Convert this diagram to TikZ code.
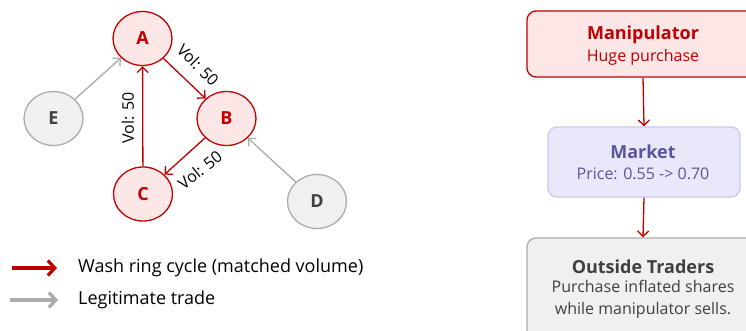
\documentclass[tikz,border=0pt]{standalone}
\usepackage{fontspec}
\setmainfont{Open Sans}
\usetikzlibrary{arrows.meta,shapes.geometric}
\definecolor{wred}{HTML}{C00000}
\definecolor{wredfill}{HTML}{FDE6E6}
\definecolor{lgray}{HTML}{ABABAB}
\definecolor{gfill}{HTML}{F0F0F0}
\definecolor{dgray}{HTML}{404040}
\definecolor{mkfill}{HTML}{E8E8FA}
\definecolor{mkdraw}{HTML}{C8C8F0}
\definecolor{mktext}{HTML}{5B55A0}
\tikzset{
  rnode/.style={ellipse, draw=wred, fill=wredfill, line width=1.3pt, minimum width=59pt, minimum height=54pt, inner sep=0pt, text=wred, font=\fontsize{18}{20}\selectfont\bfseries},
  gnode/.style={ellipse, draw=lgray, fill=gfill, line width=1.3pt, minimum width=59pt, minimum height=54pt, inner sep=0pt, text=dgray, font=\fontsize{18}{20}\selectfont\bfseries},
  redarr/.style={draw=wred, line width=1.3pt, -{Straight Barb[length=5.5pt,width=11pt]}},
  grayarr/.style={draw=lgray, line width=1.3pt, -{Straight Barb[length=5.5pt,width=11pt]}},
  vol/.style={font=\fontsize{16}{18}\selectfont, text=black, inner sep=1pt},
  box/.style={rounded corners=9pt, line width=1.3pt, minimum width=232pt, align=center},
  legarr/.style={line width=3.2pt, -{Straight Barb[length=7pt,width=15pt]}},
  legtext/.style={anchor=west, font=\fontsize{18}{21}\selectfont, text=black, inner sep=0pt},
}
\begin{document}
\begin{tikzpicture}[x=1pt,y=-1pt]
\clip (0,0) rectangle (746,331);
\fill[white] (0,0) rectangle (746,331);
% graph nodes
\node[rnode] (A) at (142.5,38.5) {A};
\node[rnode] (B) at (226.5,118.5) {B};
\node[rnode] (C) at (143,194) {C};
\node[gnode] (E) at (53.5,118.5) {E};
\node[gnode] (D) at (317,201.5) {D};
\draw[redarr] (A) -- (B);
\draw[redarr] (B) -- (C);
\draw[redarr] (C) -- (A);
\draw[grayarr] (E) -- (A);
\draw[grayarr] (D) -- (B);
\node[vol, rotate=-45] (vab) at (198,65) {Vol: 50};
\node[vol, rotate=39] (vbc) at (200,170) {Vol: 50};
\node[vol, rotate=90] (vca) at (128,118) {Vol: 50};
% legend
\coordinate (l1a) at (12,268); \coordinate (l1b) at (57,268);
\coordinate (l2a) at (10,300); \coordinate (l2b) at (58,300);
\draw[legarr, draw=wred] (l1a) -- (l1b);
\draw[legarr, draw=lgray] (l2a) -- (l2b);
\node[legtext] (t1) at (78,268) {Wash ring cycle (matched volume)};
\node[legtext] (t2) at (78,300) {Legitimate trade};
% flow boxes
\node[box, draw=wred, fill=wredfill, minimum height=66pt] (M) at (643,44) {};
\node[font=\fontsize{18}{21}\selectfont\bfseries, text=wred] (Mt) at (643,35) {Manipulator};
\node[font=\fontsize{16}{19}\selectfont, text=wred] (Ms) at (643,57) {Huge purchase};
\node[box, draw=mkdraw, fill=mkfill, minimum width=192pt, minimum height=70pt] (K) at (644,162) {};
\node[font=\fontsize{18}{21}\selectfont\bfseries, text=mktext] (Kt) at (643,152) {Market};
\node[font=\fontsize{16}{19}\selectfont, text=mktext] (Ks) at (643,174) {Price: 0.55 -> 0.70};
\node[box, draw=lgray, fill=gfill, minimum height=110pt] (O) at (643,293) {};
\node[font=\fontsize{18}{21}\selectfont\bfseries, text=dgray] (Ot) at (643,267) {Outside Traders};
\node[font=\fontsize{16}{21.5}\selectfont, text=dgray, align=center] (Os) at (643,299.5) {Purchase inflated shares\\while manipulator sells.};
\draw[redarr] (M.south) -- (K.north);
\draw[redarr] (K.south) -- (O.north);
\end{tikzpicture}
\end{document}
